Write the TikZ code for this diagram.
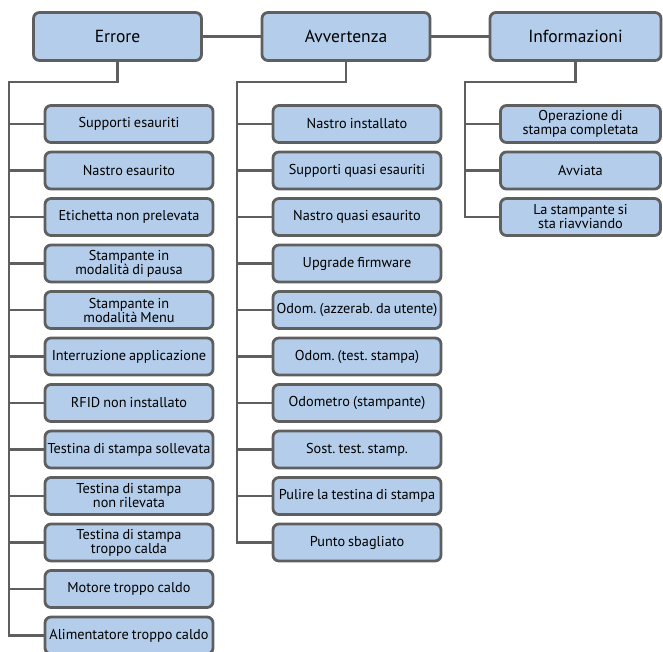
\documentclass[tikz,border=0pt]{standalone}
\usepackage{fontspec}
\setmainfont[WordSpace=0.8]{PT Sans}
\frenchspacing
\definecolor{boxfill}{RGB}{179,205,234}
\definecolor{boxline}{RGB}{95,95,95}
\begin{document}
\begin{tikzpicture}[x=1pt,y=-1pt,
  head/.style={draw=boxline,line width=2.8pt,fill=boxfill,rounded corners=6pt,
    minimum width=168pt,minimum height=48pt,inner sep=0pt,font=\fontsize{17.5}{18}\selectfont},
  item/.style={draw=boxline,line width=2.8pt,fill=boxfill,rounded corners=6pt,
    minimum width=168pt,minimum height=37pt,inner sep=0pt,align=center,
    font=\fontsize{14.3}{14}\selectfont},
  conn/.style={draw=boxline,line width=2.8pt}]
\useasboundingbox (0,0) rectangle (663,652);
% headers
\node[head] (err) at (117.5,36.5) {Errore};
\node[head] (avv) at (346,36.5) {Avvertenza};
\node[head,minimum width=171pt] (inf) at (575.5,36.5) {Informazioni};
\draw[conn] (err) -- (avv);
\draw[conn] (avv) -- (inf);
% Errore children
\foreach \n/\t [count=\i from 0] in {
  e1/Supporti esauriti,
  e2/Nastro esaurito,
  e3/Etichetta non prelevata,
  e4/{Stampante in\\modalità di pausa},
  e5/{Stampante in\\modalità Menu},
  e6/Interruzione applicazione,
  e7/RFID non installato,
  e8/Testina di stampa sollevata,
  e9/{Testina di stampa\\non rilevata},
  e10/{Testina di stampa\\troppo calda},
  e11/Motore troppo caldo,
  e12/Alimentatore troppo caldo} {
  \node[item] (\n) at (129,124+46.5*\i) {\t};
}
\coordinate (ej) at (117.5,82);
\coordinate (ec) at (9,82);
\draw[conn] (err.south) -- (ej) -- (ec) |- (e12.west);
\foreach \n in {e1,e2,e3,e4,e5,e6,e7,e8,e9,e10,e11}
  \draw[conn] (e12.west -| ec) |- (\n.west);
% Avvertenza children
\foreach \n/\t [count=\i from 0] in {
  a1/Nastro installato,
  a2/Supporti quasi esauriti,
  a3/Nastro quasi esaurito,
  a4/Upgrade firmware,
  a5/Odom. (azzerab. da utente),
  a6/Odom. (test. stampa),
  a7/Odometro (stampante),
  a8/Sost. test. stamp.,
  a9/Pulire la testina di stampa,
  a10/Punto sbagliato} {
  \node[item] (\n) at (357,124+46.5*\i) {\t};
}
\coordinate (aj) at (346,82);
\coordinate (ac) at (237,82);
\draw[conn] (avv.south) -- (aj) -- (ac) |- (a10.west);
\foreach \n in {a1,a2,a3,a4,a5,a6,a7,a8,a9}
  \draw[conn] (a10.west -| ac) |- (\n.west);
% Informazioni children
\foreach \n/\t [count=\i from 0] in {
  i1/{Operazione di\\stampa completata},
  i2/Avviata,
  i3/{La stampante si\\sta riavviando}} {
  \node[item,minimum width=160pt] (\n) at (580.5,124+46.5*\i) {\t};
}
\coordinate (ij) at (575.5,82);
\coordinate (ic) at (465,82);
\draw[conn] (inf.south) -- (ij) -- (ic) |- (i3.west);
\foreach \n in {i1,i2}
  \draw[conn] (i3.west -| ic) |- (\n.west);
\end{tikzpicture}
\end{document}
